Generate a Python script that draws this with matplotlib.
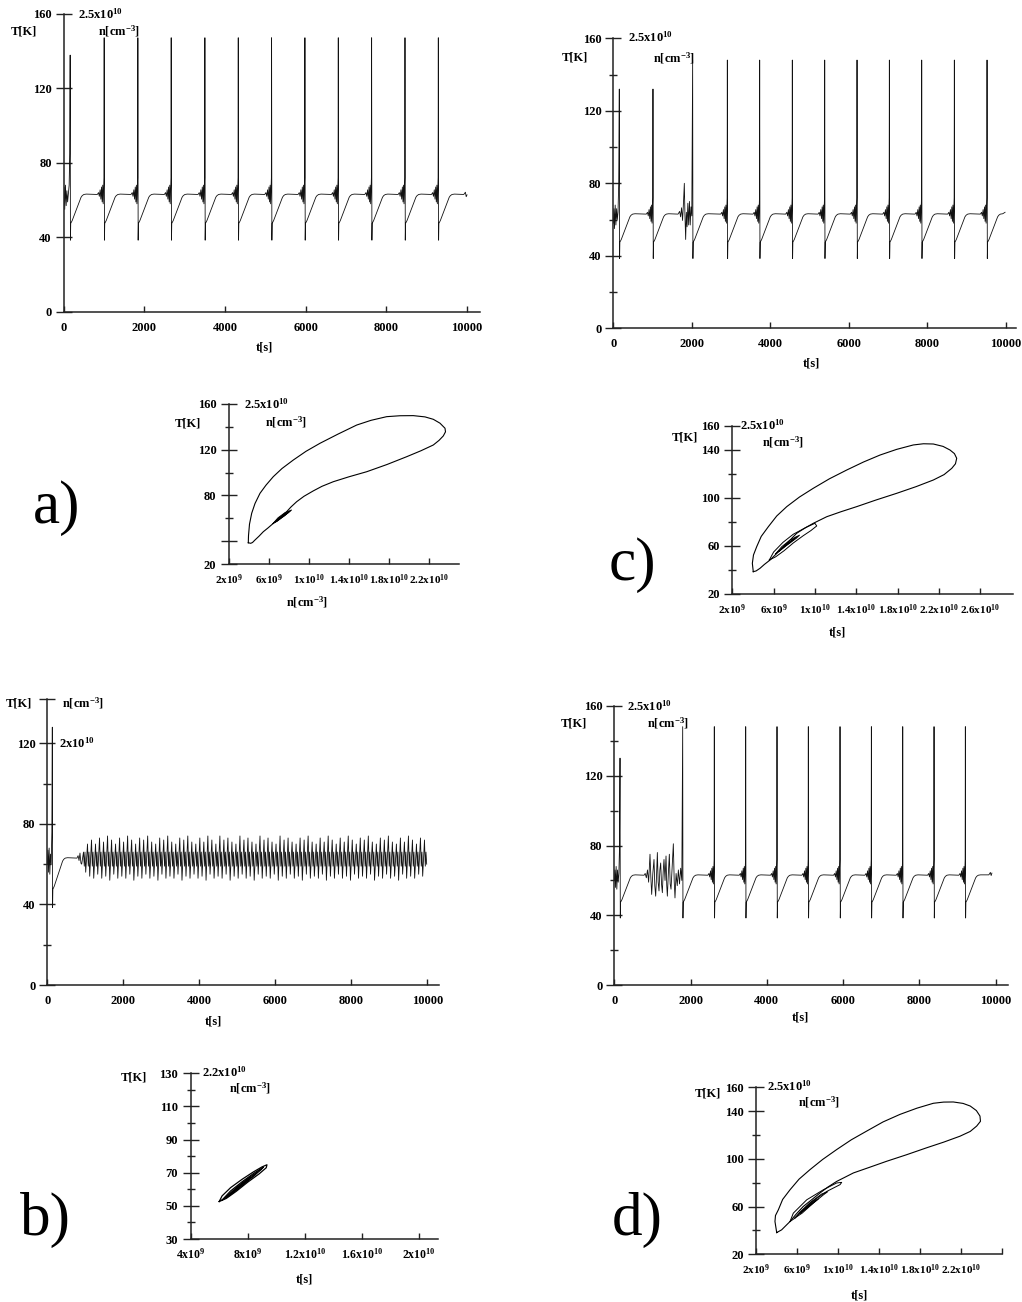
import numpy as np
import matplotlib
matplotlib.use('Agg')
import matplotlib.pyplot as plt

plt.rcParams['font.family'] = 'Liberation Serif'
plt.rcParams['font.weight'] = 'bold'
plt.rcParams['mathtext.fontset'] = 'custom'
plt.rcParams['mathtext.rm'] = 'Liberation Serif:bold'
plt.rcParams['mathtext.default'] = 'rm'

# ---- one relaxation cycle of T(t): drop after the spike, ramp, plateau, ringing
post_dt = [7, 14, 50, 270, 300, 340, 400]
post_T = [38.5, 47.5, 49.0, 61.5, 62.4, 63.0, 63.2]
pre_dt = [-170, -140, -120, -100, -82, -65, -50, -36, -24, -12, -5]
pre_T = [63.0, 64.0, 62.0, 65.5, 60.5, 67.0, 59.0, 68.0, 58.0, 66.0, 72.0]

# ---- a) time series
a_init_t = [0, 15, 30, 48, 66, 84, 102, 120, 140, 155]
a_init_T = [60, 67, 55, 68, 57, 65, 59, 63, 68, 85]
a_first = (165, 137.7)
a_spike_t = [1008, 1843, 2669, 3504, 4331, 5157, 5983, 6810, 7636, 8463, 9289]
a_peak = [147, 147, 147, 147, 147, 147, 147, 147, 147, 147, 147]
a_tail_t = [9920, 9960, 9980, 10000]
a_tail_T = [63.0, 64.2, 61.8, 62.8]

# ---- c) time series
c_init_t = [0, 15, 30, 48, 66, 84, 102, 120, 138]
c_init_T = [58, 66, 55, 68, 57, 66, 60, 64, 80]
c_first = (153, 132)
c_second = (1011, 132)
c_mid_t = [1650, 1690, 1715, 1740, 1765, 1790, 1810, 1825, 1844,
           1862, 1880, 1900, 1920, 1940, 1960, 1980, 2000]
c_mid_T = [63, 64.5, 61.5, 66.5, 59.5, 70, 80, 63, 49,
           64, 56, 69, 57, 70, 57, 67, 62]
c_third = (2022, 148)
c_spike_t = [2906, 3730, 4562, 5387, 6211, 7035, 7859, 8691, 9524]
c_peak = [148, 148, 148, 148, 148, 148, 148, 148, 148]
c_tail_t = [9983]
c_tail_T = [64.0]

# ---- b) time series
b_init_t = [0, 15, 30, 48, 66, 84, 102, 120]
b_init_T = [60, 67, 56, 68, 55, 65, 60, 76]
b_first = (132, 128)
b_ring_t = [780, 810, 835, 860, 885]
b_ring_T = [63.0, 64.2, 61.8, 65.5, 60.5]
b_osc_span = (905, 9984)
b_peak = [66, 70, 72, 70, 73, 71, 74, 72, 70, 73, 71, 74, 72, 70, 73, 72, 74, 71, 70, 73,
          72, 74, 71, 70, 73, 72, 74, 71, 70, 73, 71, 74, 72, 70, 74, 72, 73, 71, 70, 74,
          72, 73, 71, 70, 74, 72, 73, 71, 70, 74, 72, 73, 71, 70, 73, 72, 74, 71, 70, 73,
          71, 74, 72, 70, 73, 71, 74, 72, 70, 73, 72, 74, 71, 70, 73, 72, 74, 71, 70, 73,
          71, 74, 72, 70, 73, 72]
b_trough = [60, 56, 54, 53, 55, 53, 54, 52, 55, 53, 54, 53, 55, 52, 54, 53, 55, 53, 54, 52,
            55, 53, 54, 53, 55, 52, 54, 53, 55, 53, 54, 52, 55, 53, 54, 53, 55, 52, 54, 53,
            55, 53, 54, 52, 55, 53, 54, 53, 55, 52, 54, 53, 55, 53, 54, 52, 55, 53, 54, 53,
            55, 52, 54, 53, 55, 53, 54, 52, 55, 53, 54, 53, 55, 52, 54, 53, 55, 53, 54, 52,
            55, 53, 54, 53, 55, 54]
b_sub_frac = [0.45, 0.65, 0.82]
b_sub_T = [59.0, 66.0]

# ---- d) time series
d_init_t = [0, 15, 30, 48, 66, 84, 102, 120, 136]
d_init_T = [60, 66, 56, 68, 55, 66, 59, 64, 78]
d_first = (150, 130)
d_chaos_t = [780, 810, 840, 870, 900, 936, 958, 980, 1010, 1041, 1062, 1085,
             1108, 1129, 1150, 1172, 1195, 1216, 1238, 1260, 1282, 1303, 1330, 1356, 1375,
             1391, 1415, 1443, 1465, 1487, 1515, 1548, 1570, 1591, 1620, 1650, 1680,
             1710, 1740, 1770]
d_chaos_T = [63, 64, 61.5, 66, 59, 75, 62, 52, 64, 72, 57, 51,
             63, 76, 59, 54, 66, 70, 58, 53, 65, 72, 60, 74, 57,
             51, 63, 75, 58, 55, 67, 81, 60, 50, 64, 57, 66,
             58, 67, 60]
d_second = (1793, 148)
d_spike_t = [2622, 3445, 4266, 5087, 5918, 6740, 7562, 8383, 9204]
d_peak = [148, 148, 148, 148, 148, 148, 148, 148, 148]
d_tail_t = [9820, 9860, 9880, 9900]
d_tail_T = [63.2, 64.6, 62.8, 64.2]

# ---- phase portraits, n in units of 1e9 cm^-3
a_loop_n = [3.93, 3.95, 4.05, 4.27, 4.6, 5.1, 5.7, 6.43, 7.3, 8.43, 9.7, 11.1, 12.9, 14.77,
            16.2, 17.77, 19.1, 20.43, 21.6, 22.43, 23.1, 23.6, 23.65, 23.43, 23.0, 22.43,
            21.2, 19.77, 17.8, 15.77, 14.0, 12.43, 11.3, 10.43, 9.5, 8.77, 8.2, 7.77, 7.1,
            6.43, 5.9, 5.43, 5.0, 4.6, 4.35, 4.17, 3.93]
a_loop_T = [38.8, 45, 55, 64.5, 73, 81.9, 89, 96.4, 103.5, 110.9, 118.5, 125.5, 133.5, 141.4,
            145.5, 148.7, 149.5, 149.6, 148.5, 146.4, 143, 138.6, 135.5, 131.9, 128, 124,
            119, 113.8, 107, 100.7, 96.3, 92.0, 88.0, 84.0, 79.3, 74.6, 70, 65.9, 60.8,
            55.7, 51.7, 48.4, 44.5, 41.2, 39, 38.3, 38.8]
a_in_n = [[6.4, 6.9, 7.6, 8.25, 8.0, 7.4, 6.8, 6.4],
          [6.6, 7.1, 7.7, 8.1, 7.8, 7.2, 6.8, 6.6],
          [6.8, 7.4, 7.9, 7.6, 7.0, 6.8]]
a_in_T = [[55.5, 60.5, 65.0, 67.3, 65.5, 61.5, 57.5, 55.5],
          [56.8, 61.0, 64.7, 66.3, 64.3, 60.4, 57.6, 56.8],
          [58.0, 62.5, 65.0, 62.6, 59.0, 58.0]]

c_loop_n = [4.03, 3.94, 4.05, 4.36, 4.8, 5.49, 6.3, 7.27, 8.5, 9.84, 11.4, 13.07, 14.7, 16.3,
            17.9, 19.52, 20.5, 21.46, 22.4, 23.07, 23.5, 23.72, 23.6, 23.24, 22.5, 21.46,
            19.8, 17.91, 15.9, 14.04, 12.5, 11.14, 9.84, 9.0, 8.23, 7.6, 6.94, 6.3, 5.65,
            5.1, 4.68, 4.3, 4.03]
c_loop_T = [38.6, 45.6, 52.5, 59.4, 68, 76.1, 85, 92.8, 100.8, 108.1, 116, 123.3, 130, 135.8,
            140.5, 144.2, 145.2, 145, 143, 140, 137, 133.1, 128.5, 124.7, 119.5, 115,
            109.5, 103.9, 98.3, 92.8, 88.5, 84.4, 78.9, 74.8, 70.6, 65, 59.4, 53.8, 48.3,
            44.6, 41.4, 39.2, 38.6]
c_in_n = [[5.58, 6.0, 6.9, 7.9, 9.2, 10.0, 10.17, 9.6, 8.87, 7.9, 7.0, 6.2, 5.58],
          [6.2, 6.8, 7.6, 8.5, 8.2, 7.4, 6.6, 6.2],
          [6.5, 7.1, 7.8, 8.2, 7.9, 7.2, 6.7, 6.5],
          [6.8, 7.4, 7.9, 7.6, 7.0, 6.8]]
c_in_T = [[48.3, 55.0, 63.0, 69.8, 75.8, 78.9, 76.7, 72.8, 68.6, 62.5, 56.0, 51.0, 48.3],
          [53.5, 59.5, 65, 69, 66.5, 61.5, 56, 53.5],
          [55.5, 60.5, 65, 67.5, 65, 60.5, 57, 55.5],
          [58, 62.5, 65.2, 62.8, 59.3, 58]]

b_in_n = [[6.0, 6.2, 6.8, 7.6, 8.4, 9.0, 9.35, 9.3, 8.8, 8.0, 7.2, 6.5, 6.0],
          [6.2, 6.8, 7.6, 8.4, 9.1, 8.9, 8.1, 7.3, 6.6, 6.2],
          [6.4, 7.2, 8.0, 8.7, 8.5, 7.6, 6.8, 6.4],
          [6.6, 7.4, 8.2, 7.9, 7.0, 6.6]]
b_in_T = [[52.6, 56.0, 61.0, 66.0, 70.5, 73.5, 74.8, 73.0, 69.3, 64.3, 58.8, 54.5, 52.6],
          [53.5, 59.0, 64.5, 69.5, 73.4, 71.5, 66.0, 60.3, 55.5, 53.5],
          [54.8, 61.0, 66.5, 70.5, 68.5, 62.3, 56.8, 54.8],
          [56.0, 62.0, 67.3, 64.5, 58.5, 56.0]]

d_loop_n = [4.02, 3.85, 3.9, 4.18, 4.6, 5.32, 6.2, 7.27, 8.5, 9.87, 11.3, 12.8, 14.4, 16.05,
            17.7, 19.3, 20.3, 21.25, 22.2, 22.9, 23.5, 23.85, 23.9, 23.53, 22.9, 21.9, 20.3,
            18.65, 16.7, 14.75, 13.1, 11.5, 10.7, 9.87, 9.0, 8.24, 7.4, 6.61, 5.9, 5.32,
            4.85, 4.5, 4.02]
d_loop_T = [38.2, 47.5, 52.5, 57.3, 66, 74.1, 83, 91, 99.5, 107.8, 116, 123.3, 131, 137.3,
            142.5, 146.6, 147.6, 147.7, 146.5, 144.3, 140.5, 135.9, 131.5, 127.5, 123, 119,
            114, 109.3, 103.5, 98, 93, 88.2, 84.7, 81.1, 76.3, 71.4, 65.5, 60.1, 53.5, 47.5,
            43.5, 40.5, 38.2]
d_in_n = [[5.32, 5.64, 6.95, 8.57, 9.87, 10.36, 10.2, 8.9, 7.27, 5.8, 5.32],
          [5.8, 6.3, 7.3, 8.4, 9.0, 8.6, 7.6, 6.5, 5.8],
          [6.3, 6.9, 7.6, 8.1, 7.7, 7.0, 6.5, 6.3],
          [6.6, 7.2, 7.8, 7.4, 6.8, 6.6]]
d_in_T = [[47.5, 54.5, 65.7, 74.1, 79.8, 80.3, 78.4, 72.7, 62.9, 50.3, 47.5],
          [50.5, 55.5, 63.5, 70.5, 72.5, 70, 63, 54.5, 50.5],
          [54.5, 59.5, 64.5, 66.5, 63.8, 59, 55.5, 54.5],
          [56.5, 61, 64.8, 61.8, 57.8, 56.5]]

time_ticks = [0, 2000, 4000, 6000, 8000, 10000]


def spike(ts, peak, ring=True):
    t, T = [], []
    if ring:
        t += [ts + d for d in pre_dt]
        T += pre_T
    t.append(ts)
    T.append(peak)
    t += [ts + d for d in post_dt]
    T += post_T
    return t, T


def join(parts):
    t = np.concatenate([np.asarray(p[0], float) for p in parts])
    T = np.concatenate([np.asarray(p[1], float) for p in parts])
    return t, T


def b_oscillation():
    edges = np.linspace(b_osc_span[0], b_osc_span[1], len(b_peak) + 1)
    t, T = [], []
    for k in range(len(b_peak)):
        t0, P = edges[k], edges[k + 1] - edges[k]
        t += [t0] + [t0 + f * P for f in b_sub_frac]
        T += [b_trough[k], b_peak[k]] + b_sub_T
    return t + [edges[-1]], T + [60.0]


W, H = 1022, 1302
fig = plt.figure(figsize=(W / 100, H / 100), dpi=100)
fig.patch.set_facecolor('white')


def box(l, t, r, b):
    return fig.add_axes([l / W, 1 - b / H, (r - l) / W, (b - t) / H])


def label(x, y, s, ha='left', size=9, weight='bold'):
    fig.text(x / W, 1 - y / H, s, ha=ha, va='center', fontsize=size, fontweight=weight)


def frame(ax, xlim, ylim, yt, ylab, ymin, xt, xlab, xsize=9, ylen=11, xpad=7):
    ax.set_xlim(*xlim)
    ax.set_ylim(*ylim)
    ax.patch.set_alpha(0)
    for s in ('top', 'right'):
        ax.spines[s].set_visible(False)
    for s in ('left', 'bottom'):
        ax.spines[s].set_linewidth(1.1)
        ax.spines[s].set_color('#222222')
    ax.set_yticks(yt)
    ax.set_yticklabels(ylab)
    ax.set_yticks(ymin, minor=True)
    ax.set_xticks(xt)
    ax.set_xticklabels(xlab)
    ax.tick_params(axis='y', which='major', direction='inout', length=ylen, width=1.0,
                   labelsize=9, pad=3, color='#222222')
    ax.tick_params(axis='y', which='minor', direction='inout', length=6, width=1.0,
                   color='#222222')
    ax.tick_params(axis='x', which='major', direction='in', length=4.5, width=1.0,
                   labelsize=xsize, pad=xpad, color='#222222')


line = dict(color='black', lw=0.8)
ring_line = dict(color='#111111', lw=0.6)

# a) T(t)
ax = box(63.5, 13.5, 480, 312)
t, T = join([(a_init_t, a_init_T), spike(*a_first, ring=False)]
            + [spike(s, p) for s, p in zip(a_spike_t, a_peak)] + [(a_tail_t, a_tail_T)])
ax.plot(t, T, **ring_line)
frame(ax, (0, 10322), (0, 160), [0, 40, 80, 120, 160], ['0', '40', '80', '120', '160'], [],
      time_ticks, [str(v) for v in time_ticks])

# c) T(t)
ax = box(613.3, 38.3, 1016, 328.3)
t, T = join([(c_init_t, c_init_T), spike(*c_first, ring=False), spike(*c_second),
             (c_mid_t, c_mid_T), spike(*c_third, ring=False)]
            + [spike(s, p) for s, p in zip(c_spike_t, c_peak)] + [(c_tail_t, c_tail_T)])
ax.plot(t, T, **ring_line)
frame(ax, (0, 10262), (0, 160), [0, 40, 80, 120, 160], ['0', '40', '80', '120', '160'],
      [20, 60, 100, 140], time_ticks, [str(v) for v in time_ticks])

# b) T(t)
ax = box(47.3, 699, 439.3, 985)
t, T = join([(b_init_t, b_init_T), spike(*b_first, ring=False), (b_ring_t, b_ring_T),
             b_oscillation()])
ax.plot(t, T, color='#111111', lw=0.6)
frame(ax, (0, 10316), (0, 142), [0, 40, 80, 120, 142], ['0', '40', '80', '120', ''],
      [20, 60, 100], time_ticks, [str(v) for v in time_ticks])

# d) T(t)
ax = box(614.3, 705.7, 1008.3, 985.3)
t, T = join([(d_init_t, d_init_T), spike(*d_first, ring=False), (d_chaos_t, d_chaos_T),
             spike(*d_second, ring=False)]
            + [spike(s, p) for s, p in zip(d_spike_t, d_peak)] + [(d_tail_t, d_tail_T)])
ax.plot(t, T, **ring_line)
frame(ax, (0, 10330), (0, 160), [0, 40, 80, 120, 160], ['0', '40', '80', '120', '160'],
      [20, 60, 100, 140], time_ticks, [str(v) for v in time_ticks])

# phase portraits T(n)
n_lab = {2: '2x10$^9$', 4: '4x10$^9$', 6: '6x10$^9$', 8: '8x10$^9$', 10: '1x10$^{10}$',
         12: '1.2x10$^{10}$', 14: '1.4x10$^{10}$', 16: '1.6x10$^{10}$', 18: '1.8x10$^{10}$',
         20: '2x10$^{10}$', 22: '2.2x10$^{10}$', 26: '2.6x10$^{10}$'}

ax = box(229, 403.7, 459, 564.3)
ax.plot(a_loop_n, a_loop_T, **line)
for n, T in zip(a_in_n, a_in_T):
    ax.plot(n, T, color='black', lw=0.7)
xt = [2, 6, 10, 14, 18, 22]
frame(ax, (2, 25), (20, 160), [20, 40, 80, 120, 160], ['20', '', '80', '120', '160'],
      [60, 100, 140], xt, [n_lab[v] for v in xt], xsize=8, ylen=12, xpad=6)

ax = box(732.3, 426, 1013, 594)
ax.plot(c_loop_n, c_loop_T, **line)
for n, T in zip(c_in_n, c_in_T):
    ax.plot(n, T, color='black', lw=0.7)
xt = [2, 6, 10, 14, 18, 22, 26]
frame(ax, (2, 29.17), (20, 160), [20, 60, 100, 140, 160], ['20', '60', '100', '140', '160'],
      [40, 80, 120], xt, [n_lab[v] for v in xt], xsize=8, ylen=12, xpad=6)

ax = box(190.7, 1073.3, 438.3, 1239)
for n, T in zip(b_in_n, b_in_T):
    ax.plot(n, T, color='black', lw=0.9)
xt = [4, 8, 12, 16, 20]
frame(ax, (4, 21.37), (30, 130), [30, 50, 70, 90, 110, 130],
      ['30', '50', '70', '90', '110', '130'], [40, 60, 80, 100, 120],
      xt, [n_lab[v] for v in xt], xsize=8.5, ylen=12, xpad=6)

ax = box(756, 1087.3, 1002, 1254.3)
ax.plot(d_loop_n, d_loop_T, **line)
for n, T in zip(d_in_n, d_in_T):
    ax.plot(n, T, color='black', lw=0.7)
xt = [2, 6, 10, 14, 18, 22, 26]
frame(ax, (2, 26), (20, 160), [20, 60, 100, 140, 160], ['20', '60', '100', '140', '160'],
      [40, 80, 120], xt, [n_lab[v] for v in xt[:-1]] + [''], xsize=8, ylen=12, xpad=6)

# axis captions
dens = 'n[cm$^{-3}$]'
label(24, 32, 'T[K]', ha='center')
label(78, 14, '2.5x10$^{10}$')
label(98, 31, dens)
label(264, 347, 't[s]', ha='center')

label(575, 57, 'T[K]', ha='center')
label(628, 37, '2.5x10$^{10}$')
label(653, 58, dens)
label(811, 363, 't[s]', ha='center')

label(188, 423, 'T[K]', ha='center')
label(244, 404, '2.5x10$^{10}$')
label(265, 422, dens)
label(307, 602, dens, ha='center')

label(685, 437, 'T[K]', ha='center')
label(740, 425, '2.5x10$^{10}$')
label(762, 442, dens)
label(837, 633, 't[s]', ha='center')

label(19, 703, 'T[K]', ha='center')
label(62, 703, dens)
label(59, 743, '2x10$^{10}$')
label(213, 1022, 't[s]', ha='center')

label(574, 723, 'T[K]', ha='center')
label(627, 706, '2.5x10$^{10}$')
label(647, 723, dens)
label(800, 1018, 't[s]', ha='center')

label(134, 1078, 'T[K]', ha='center')
label(202, 1072, '2.2x10$^{10}$')
label(229, 1088, dens)
label(304, 1280, 't[s]', ha='center')

label(708, 1093, 'T[K]', ha='center')
label(767, 1086, '2.5x10$^{10}$')
label(798, 1102, dens)
label(859, 1295, 't[s]', ha='center')

# panel letters
label(57, 508, 'a)', ha='center', size=44, weight='normal')
label(632, 565, 'c)', ha='center', size=44, weight='normal')
label(45, 1220, 'b)', ha='center', size=44, weight='normal')
label(637, 1220, 'd)', ha='center', size=44, weight='normal')

fig.savefig('out.png', dpi=100, facecolor='white')
